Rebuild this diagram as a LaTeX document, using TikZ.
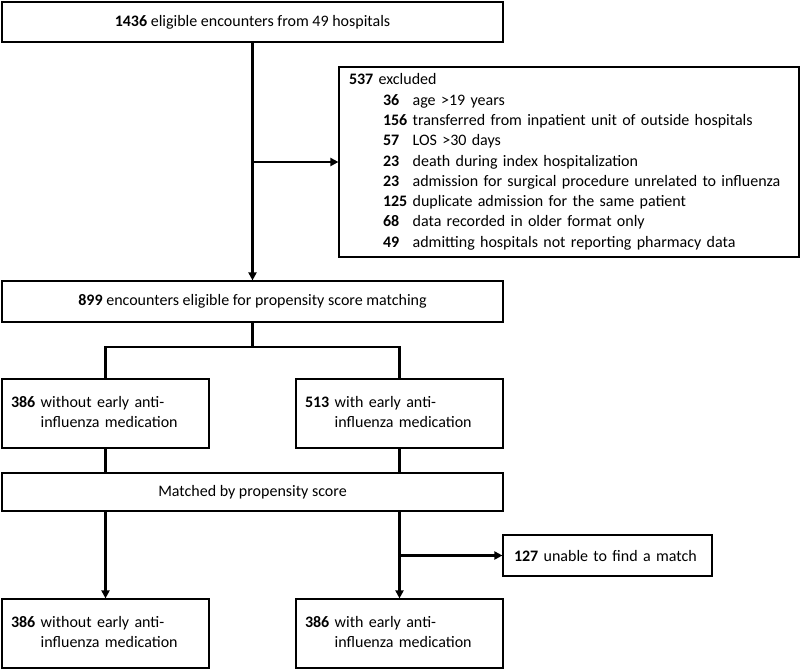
\documentclass[tikz,border=0pt]{standalone}
\usepackage{fontspec}
\setmainfont{Carlito}
\usetikzlibrary{arrows.meta}

\begin{document}
\begin{tikzpicture}[x=1pt,y=-1pt,
  box/.style={draw,line width=1.2pt,inner sep=0pt,font=\fontsize{16}{20.3}\selectfont},
  leftbox/.style={box,align=left,inner xsep=10pt},
  link/.style={line width=2.2pt},
  arr/.style={link,-{Triangle[length=8pt,width=8pt]}}]
\useasboundingbox (0,0) rectangle (802,669);
\node[box,minimum width=501pt,minimum height=40pt] (all) at (252.5,22) {\textbf{1436} eligible encounters from 49 hospitals};
\node[leftbox,text width=440pt,minimum height=190pt] (excl) at (569,162) {%
\begin{tabular}{@{\hspace{34pt}}l@{\ }l@{}}
\multicolumn{2}{@{}l@{}}{\textbf{537} excluded}\\
\textbf{36} & age >19 years\\
\textbf{156} & transferred from inpatient unit of outside hospitals\\
\textbf{57} & LOS >30 days\\
\textbf{23} & death during index hospitalization\\
\textbf{23} & admission for surgical procedure unrelated to influenza\\
\textbf{125} & duplicate admission for the same patient\\
\textbf{68} & data recorded in older format only\\
\textbf{49} & admitting hospitals not reporting pharmacy data
\end{tabular}};
\node[box,minimum width=501pt,minimum height=41pt] (e899) at (252.5,301.5) {\textbf{899} encounters eligible for propensity score matching};
\node[leftbox,inner xsep=9pt,text width=189pt,minimum height=69pt] (without) at (105.5,413.5) {%
\begin{tabular}{@{}l@{\ }l@{}}\textbf{386} & without early anti-\\ & influenza medication\end{tabular}};
\node[leftbox,inner xsep=9pt,text width=189pt,minimum height=69pt] (with) at (399.5,413.5) {%
\begin{tabular}{@{}l@{\ }l@{}}\textbf{513} & with early anti-\\ & influenza medication\end{tabular}};
\node[box,minimum width=501pt,minimum height=38pt] (matched) at (252.5,492) {Matched by propensity score};
\node[leftbox,inner xsep=11pt,text width=187pt,minimum height=41pt] (nomatch) at (607.5,555.5) {\textbf{127} unable to find a match};
\node[leftbox,inner xsep=9pt,text width=189pt,minimum height=69pt] (leftout) at (105.5,633.5) {%
\begin{tabular}{@{}l@{\ }l@{}}\textbf{386} & without early anti-\\ & influenza medication\end{tabular}};
\node[leftbox,inner xsep=9pt,text width=189pt,minimum height=69pt] (rightout) at (399.5,633.5) {%
\begin{tabular}{@{}l@{\ }l@{}}\textbf{386} & with early anti-\\ & influenza medication\end{tabular}};
\coordinate (split) at (252.5,347);
\draw[arr] (all.south) -- (e899.north);
\draw[arr] (all.south |- excl.west) -- (excl.west);
\draw[link] (e899.south) -- (split);
\draw[link] (without.north) |- (split) -| (with.north);
\draw[link] (without.south) -- (without.south |- matched.north);
\draw[link] (with.south) -- (with.south |- matched.north);
\draw[arr] (without.south |- matched.south) -- (leftout.north);
\draw[arr] (with.south |- matched.south) -- (rightout.north);
\draw[arr] (with.south |- nomatch.west) -- (nomatch.west);
\end{tikzpicture}
\end{document}
